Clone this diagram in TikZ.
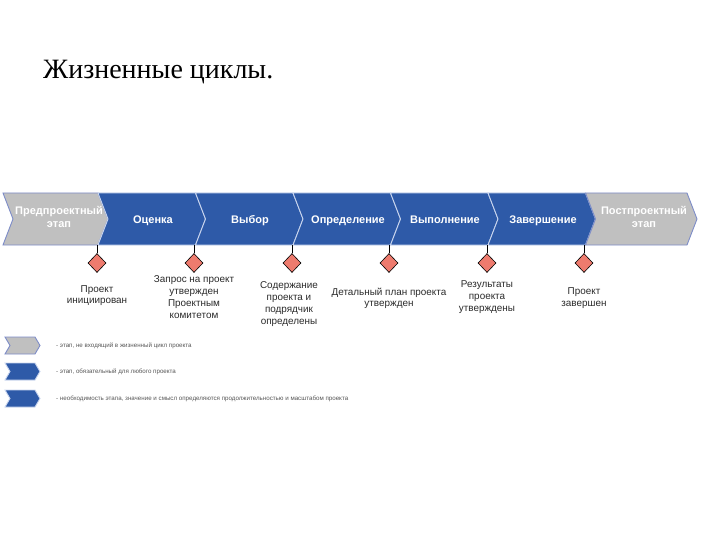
\documentclass[tikz,border=0pt]{standalone}
\usepackage{fontspec}
\setmainfont{Liberation Serif}
\newfontfamily\arialf{Liberation Sans}
\usetikzlibrary{shapes.geometric}
\definecolor{chblue}{HTML}{2E5AA8}
\definecolor{chgrey}{HTML}{C0C0C0}
\definecolor{chgreyline}{HTML}{7D8CC8}
\definecolor{chsep}{HTML}{C9D5EE}
\definecolor{msfill}{HTML}{EE7B6E}
\definecolor{lbltext}{HTML}{2A2A2A}
\definecolor{legtext}{HTML}{555555}
\tikzset{
  bluechev/.style={fill=chblue, draw=chsep, line width=0.9pt, line join=miter},
  greychev/.style={fill=chgrey, draw=chgreyline, line width=0.9pt, line join=miter},
  chevlabel/.style={text=white, font=\arialf\bfseries\fontsize{11}{13}\selectfont, align=center, inner sep=0pt, anchor=base},
  milestone/.style={diamond, draw=black, fill=msfill, line width=0.6pt, minimum width=18pt, minimum height=19pt, inner sep=0pt},
  mslabel/.style={text=lbltext, font=\arialf\fontsize{9.9}{11.8}\selectfont, align=center, inner sep=0pt, anchor=north},
  mslink/.style={draw=black, line width=0.6pt},
  legtxt/.style={text=legtext, font=\arialf\fontsize{6.2}{7}\selectfont, anchor=west, inner sep=0pt},
}
\begin{document}
\begin{tikzpicture}[x=1pt,y=-1pt]
\useasboundingbox (0,0) rectangle (720,540);
% title
\node[anchor=base west, inner sep=0pt, font=\fontsize{28}{32}\selectfont] (title) at (43,79) {Жизненные циклы.};
% chevrons
\def\ytop{193}\def\ybot{245}\def\ymid{219}
\def\chev#1#2#3{\path[#1] (#2,\ytop) -- (#3,\ytop) -- (#3+10,\ymid) -- (#3,\ybot) -- (#2,\ybot) -- (#2+10,\ymid) -- cycle;}
\chev{greychev}{3}{98}
\chev{bluechev}{98}{195.5}
\chev{bluechev}{195.5}{293}
\chev{bluechev}{293}{390.5}
\chev{bluechev}{390.5}{488}
\chev{bluechev}{488}{585.5}
\chev{greychev}{585.5}{687}
% chevron labels
\node[chevlabel] (c0) at (59,227.5) {Предпроектный\\этап};
\node[chevlabel] (c1) at (153,223.5) {Оценка};
\node[chevlabel] (c2) at (250,223.5) {Выбор};
\node[chevlabel] (c3) at (348,223.5) {Определение};
\node[chevlabel] (c4) at (445,223.5) {Выполнение};
\node[chevlabel] (c5) at (543,223.5) {Завершение};
\node[chevlabel] (c6) at (644,227.5) {Постпроектный\\этап};
% milestones
\foreach \i/\x in {1/97,2/194,3/292,4/389,5/487,6/584}{
  \coordinate (b\i) at (\x,\ybot);
  \node[milestone] (d\i) at (\x,263) {};
  \draw[mslink] (b\i) -- (d\i.north);
}
\node[mslabel] (t1) at (97,285) {Проект\\инициирован};
\node[mslabel] (t2) at (194,275.5) {Запрос на проект\\утвержден\\Проектным\\комитетом};
\node[mslabel] (t3) at (289,281.5) {Содержание\\проекта и\\подрядчик\\определены};
\node[mslabel] (t4) at (389,287.5) {Детальный план проекта\\утвержден};
\node[mslabel] (t5) at (487,280.5) {Результаты\\проекта\\утверждены};
\node[mslabel] (t6) at (584,287.5) {Проект\\завершен};
% legend
\def\legchev#1#2{\path[#1] (5,#2) -- (35,#2) -- (40,#2+8.5) -- (35,#2+17) -- (5,#2+17) -- (10,#2+8.5) -- cycle;}
\legchev{greychev}{337}
\legchev{bluechev}{363}
\legchev{bluechev}{390}
\node[legtxt] (l1) at (56,345.5) {- этап, не входящий в жизненный цикл проекта};
\node[legtxt] (l2) at (56,371.5) {- этап, обязательный для любого проекта};
\node[legtxt] (l3) at (56,398.5) {- необходимость этапа, значение и смысл определяются продолжительностью и масштабом проекта};
\end{tikzpicture}
\end{document}
